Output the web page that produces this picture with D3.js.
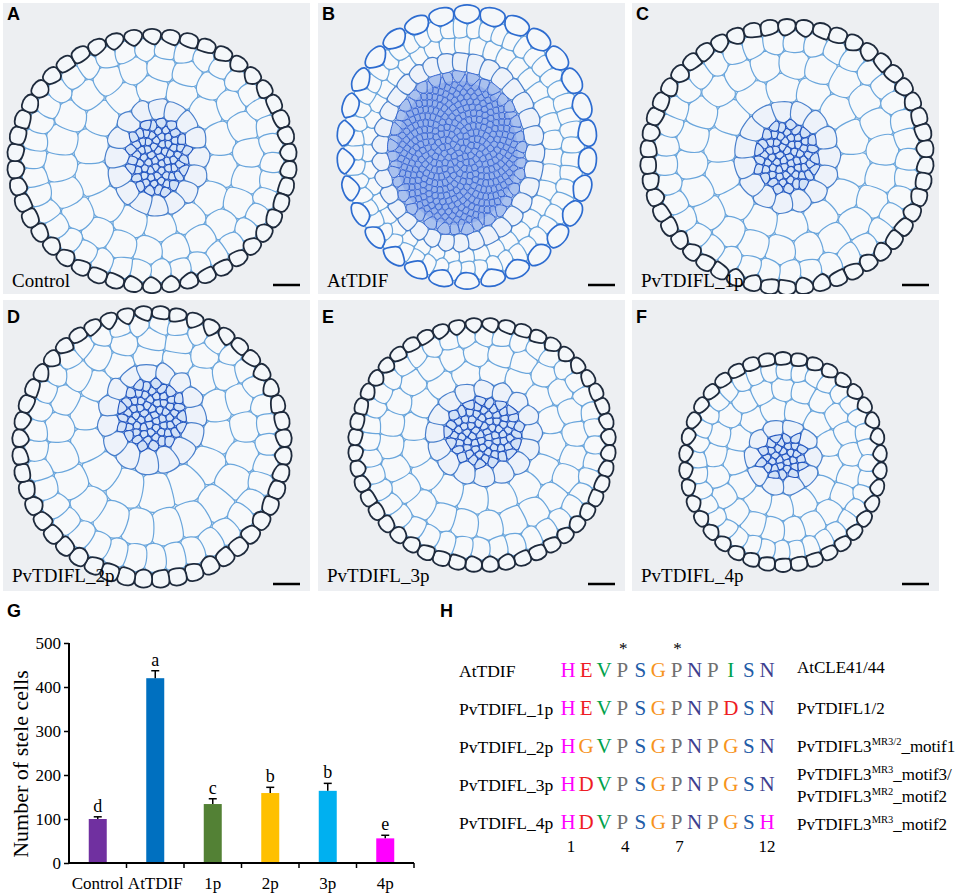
<!DOCTYPE html>
<html><head><meta charset="utf-8">
<script src="https://cdn.jsdelivr.net/npm/d3@7"></script>
<style>
html,body{margin:0;padding:0;background:#fff;}
svg{display:block;}
</style></head>
<body>
<svg id="fig" width="957" height="894"></svg>
<script>
// ---------------- DATA ----------------
const categories = ["Control", "AtTDIF", "1p", "2p", "3p", "4p"];
const meanCells = [100, 420, 134, 159, 164, 56];
const errCells = [5, 17, 12, 13, 17, 7];
const sigLetters = ["d", "a", "c", "b", "b", "e"];
const yTicks = [0, 100, 200, 300, 400, 500];

const seqNames = ["AtTDIF", "PvTDIFL_1p", "PvTDIFL_2p", "PvTDIFL_3p", "PvTDIFL_4p"];
const sequences = ["HEVPSGPNPISN", "HEVPSGPNPDSN", "HGVPSGPNPGSN", "HDVPSGPNPGSN", "HDVPSGPNPGSH"];
const seqLabels = [
  [["AtCLE41/44"]],
  [["PvTDIFL1/2"]],
  [["PvTDIFL3", "MR3/2", "_motif1"]],
  [["PvTDIFL3", "MR3", "_motif3/"], ["PvTDIFL3", "MR2", "_motif2"]],
  [["PvTDIFL3", "MR3", "_motif2"]]
];
const conservedPos = [4, 7];
const positionTicks = [1, 4, 7, 12];

const panelLetters = ["A", "B", "C", "D", "E", "F"];
const panelNames = ["Control", "AtTDIF", "PvTDIFL_1p", "PvTDIFL_2p", "PvTDIFL_3p", "PvTDIFL_4p"];

// ---------------- STYLES ----------------
const barColors = ["#7030A0", "#0070C0", "#538135", "#FFC000", "#00B0F0", "#FF00FF"];
const aaColors = {H:"#ff00ff", E:"#ee1c24", D:"#ee1c24", V:"#00a14b", I:"#00a14b",
  P:"#707070", S:"#1f5da8", G:"#f7941d", N:"#3f3f8f"};
const serif = "'Liberation Serif','Times New Roman',serif";
const sans = "'Liberation Sans',Arial,sans-serif";

const svg = d3.select("#fig");

// ---------------- MICROGRAPH PANELS (stylised drawings) ----------------
const geom = [
  {x:3,   y:3,   c:[152,161], r:[145,132], sc:[158,157], sr:[29,37], n:70,  ts:[0.3,0.6,0.85], epi:46, eo:0.95, go:1.05},
  {x:318, y:3,   c:[467,147], r:[130,142], sc:[457,153], sr:[64,76], n:420, ts:[0.38,0.72],     epi:30, eo:0.92, go:1.08},
  {x:632, y:3,   c:[787,157], r:[147,138], sc:[787,157], sr:[30,34], n:65,  ts:[0.3,0.6,0.85], epi:50, eo:0.95, go:1.05},
  {x:3,   y:300, c:[152,447], r:[140,141], sc:[152,415], sr:[32,33], n:65,  ts:[0.3,0.6,0.85], epi:48, eo:0.95, go:1.05},
  {x:318, y:300, c:[482,445], r:[134,127], sc:[484,432], sr:[37,32], n:75,  ts:[0.3,0.6,0.85], epi:48, eo:0.95, go:1.05},
  {x:632, y:300, c:[783,462], r:[104,110], sc:[783,457], sr:[22,21], n:32,  ts:[0.3,0.6,0.85], epi:38, eo:0.94, go:1.06}
];
const PW = 307, PH = 291;
const defs = svg.append("defs");
const golden = Math.PI * (3 - Math.sqrt(5));
const smooth = d3.line().curve(d3.curveCatmullRomClosed.alpha(0.5));

geom.forEach((g, i) => {
  defs.append("clipPath").attr("id", "clip" + i)
    .append("rect").attr("x", g.x).attr("y", g.y).attr("width", PW).attr("height", PH);
  const gp = svg.append("g").attr("clip-path", `url(#clip${i})`);
  gp.append("rect").attr("x", g.x).attr("y", g.y).attr("width", PW).attr("height", PH).attr("fill", "#edeff2");

  const pts = []; // [x, y, type]
  for (let k = 0; k < g.n; k++) {
    const rr = Math.sqrt((k + 0.5) / g.n) * 0.97, th = k * golden;
    pts.push([g.sc[0] + g.sr[0] * rr * Math.cos(th), g.sc[1] + g.sr[1] * rr * Math.sin(th), "s"]);
  }
  const I = th => [g.sc[0] + 1.2 * g.sr[0] * Math.cos(th), g.sc[1] + 1.2 * g.sr[1] * Math.sin(th)];
  const O = th => [g.c[0] + g.eo * g.r[0] * Math.cos(th), g.c[1] + g.eo * g.r[1] * Math.sin(th)];
  const perim = (f) => { let p = 0, prev = f(0); for (let a = 1; a <= 64; a++) { const q = f(a / 64 * 2 * Math.PI); p += Math.hypot(q[0] - prev[0], q[1] - prev[1]); prev = q; } return p; };
  const endoN = Math.max(9, Math.round(perim(I) / 16));
  for (let k = 0; k < endoN; k++) { const th = k / endoN * 2 * Math.PI; const p = I(th); pts.push([p[0], p[1], "e"]); }
  const span = d3.mean(d3.range(16), a => { const th = a / 16 * 2 * Math.PI; const p = I(th), q = O(th); return Math.hypot(q[0] - p[0], q[1] - p[1]); });
  const tt = [0].concat(g.ts, [1]);
  g.ts.forEach((t, j) => {
    const f = th => { const a = I(th), b = O(th); return [a[0] + (b[0] - a[0]) * t, a[1] + (b[1] - a[1]) * t]; };
    const gap = (tt[j + 2] - tt[j]) / 2 * span * 1.05;
    const n = Math.max(8, Math.round(perim(f) / gap));
    for (let k = 0; k < n; k++) { const th = (k + 0.37 * (j + 1)) / n * 2 * Math.PI; const p = f(th); pts.push([p[0], p[1], "c"]); }
  });
  for (let k = 0; k < g.epi; k++) { const th = (k + 0.5) / g.epi * 2 * Math.PI; const p = O(th); pts.push([p[0], p[1], "p"]); }
  const gn = g.epi * 2;
  for (let k = 0; k < gn; k++) { const th = k / gn * 2 * Math.PI;
    pts.push([g.c[0] + g.go * g.r[0] * Math.cos(th), g.c[1] + g.go * g.r[1] * Math.sin(th), "g"]); }

  const del = d3.Delaunay.from(pts, d => d[0], d => d[1]);
  const vor = del.voronoi([g.x - 50, g.y - 50, g.x + PW + 50, g.y + PH + 50]);
  ["c", "e", "s", "p"].forEach(type => {
    pts.forEach((p, k) => {
      if (p[2] !== type) return;
      const poly = vor.cellPolygon(k);
      if (!poly) return;
      const shrink = type === "s" ? 0.86 : (type === "p" ? 0.9 : 0.95);
      const cx = d3.mean(poly.slice(0, -1), q => q[0]), cy = d3.mean(poly.slice(0, -1), q => q[1]);
      const sp = poly.slice(0, -1).map(q => [cx + (q[0] - cx) * shrink, cy + (q[1] - cy) * shrink]);
      let fill = "#f7f9fb", stroke = "#6aa6dc", sw = 1.2;
      if (type === "s") { fill = i === 1 ? "#a9c1ee" : "#d3e2f7"; stroke = i === 1 ? "#2f5fd0" : "#2356c0"; sw = i === 1 ? 0.9 : 1.1; }
      if (type === "e") { fill = "#edf2fa"; stroke = "#4a80cc"; sw = 1.2; }
      if (type === "p") { fill = "#f4f7fa"; stroke = i === 1 ? "#2d6cd0" : "#1e2a3c"; sw = i === 1 ? 1.7 : 1.8; }
      gp.append("path").attr("d", smooth(sp)).attr("fill", fill).attr("stroke", stroke).attr("stroke-width", sw);
    });
  });
  if (i === 1) {
    gp.append("ellipse").attr("cx", g.sc[0]).attr("cy", g.sc[1]).attr("rx", g.sr[0] * 0.95).attr("ry", g.sr[1] * 0.95)
      .attr("fill", "#3a66d8").attr("opacity", 0.18);
  }
  const rowBase = i < 3 ? 20 : 323;
  svg.append("text").attr("x", g.x + 4).attr("y", rowBase).text(panelLetters[i])
    .attr("font-family", sans).attr("font-weight", "bold").attr("font-size", 18).attr("fill", "#000");
  const nameBase = i < 3 ? 287 : 582;
  svg.append("text").attr("x", g.x + 9).attr("y", nameBase).text(panelNames[i])
    .attr("font-family", serif).attr("font-size", 19).attr("fill", "#000");
  const sbY = i < 3 ? 285 : 584;
  svg.append("line").attr("x1", g.x + PW - 37).attr("x2", g.x + PW - 10).attr("y1", sbY).attr("y2", sbY)
    .attr("stroke", "#000").attr("stroke-width", 2.5);
});

// ---------------- PANEL G: bar chart ----------------
svg.append("text").attr("x", 7).attr("y", 617).text("G")
  .attr("font-family", sans).attr("font-weight", "bold").attr("font-size", 18);

const x = d3.scaleBand().domain(categories).range([69, 414]).padding(0);
const y = d3.scaleLinear().domain([0, 500]).range([863, 643]);
const barW = 18;
const gG = svg.append("g");

gG.selectAll("rect.bar").data(categories).join("rect")
  .attr("x", d => x(d) + x.bandwidth() / 2 - barW / 2)
  .attr("y", (d, k) => y(meanCells[k]))
  .attr("width", barW)
  .attr("height", (d, k) => y(0) - y(meanCells[k]))
  .attr("fill", (d, k) => barColors[k]);

categories.forEach((d, k) => {
  const cx = x(d) + x.bandwidth() / 2;
  const top = y(meanCells[k] + errCells[k]);
  gG.append("line").attr("x1", cx).attr("x2", cx).attr("y1", y(meanCells[k])).attr("y2", top)
    .attr("stroke", "#000").attr("stroke-width", 1.5);
  gG.append("line").attr("x1", cx - 4).attr("x2", cx + 4).attr("y1", top).attr("y2", top)
    .attr("stroke", "#000").attr("stroke-width", 1.5);
  gG.append("text").attr("x", cx).attr("y", top - 5).attr("text-anchor", "middle").text(sigLetters[k])
    .attr("font-family", serif).attr("font-size", 18);
});

const yAxis = gG.append("g").attr("transform", "translate(69,0)")
  .call(d3.axisLeft(y).tickValues(yTicks).tickSize(5).tickPadding(3));
yAxis.select(".domain").attr("stroke-width", 2).attr("d", "M0,643V863");
yAxis.selectAll(".tick line").attr("stroke-width", 1.5);
yAxis.selectAll("text").attr("font-family", serif).attr("font-size", 17).attr("fill", "#000");

const xAxis = gG.append("g").attr("transform", "translate(0,863)")
  .call(d3.axisBottom(x).tickSize(0).tickPadding(14));
xAxis.select(".domain").attr("stroke-width", 2).attr("d", "M69,0H414");
xAxis.selectAll("text").attr("font-family", serif).attr("font-size", 17).attr("fill", "#000");
categories.forEach(d => {
  const bx = x(d) + x.bandwidth();
  gG.append("line").attr("x1", bx).attr("x2", bx).attr("y1", 863).attr("y2", 868)
    .attr("stroke", "#000").attr("stroke-width", 1.5);
});

gG.append("text").attr("transform", "translate(28,764) rotate(-90)").attr("text-anchor", "middle")
  .text("Number of stele cells").attr("font-family", serif).attr("font-size", 22);

// ---------------- PANEL H: alignment ----------------
svg.append("text").attr("x", 440).attr("y", 617).text("H")
  .attr("font-family", sans).attr("font-weight", "bold").attr("font-size", 18);

const pos = d3.scaleLinear().domain([1, 12]).range([568, 767]);
const rowY = d3.scaleLinear().domain([0, 4]).range([677, 829]);
const gH = svg.append("g");

seqNames.forEach((nm, r) => {
  gH.append("text").attr("x", 459).attr("y", rowY(r)).text(nm)
    .attr("font-family", serif).attr("font-size", 17.5);
  sequences[r].split("").forEach((aa, k) => {
    gH.append("text").attr("x", pos(k + 1)).attr("y", rowY(r)).attr("text-anchor", "middle")
      .text(aa).attr("fill", aaColors[aa]).attr("font-family", serif).attr("font-size", 21);
  });
});
const labelBases = [[673], [714], [752], [780, 802], [830]];
seqLabels.forEach((lines, r) => {
  lines.forEach((parts, li) => {
    const t = gH.append("text").attr("x", 797).attr("y", labelBases[r][li])
      .attr("font-family", serif).attr("font-size", 17);
    t.append("tspan").text(parts[0]);
    if (parts.length > 1) {
      t.append("tspan").text(parts[1]).attr("font-size", 10.5).attr("dy", -7);
      t.append("tspan").text(parts[2]).attr("dy", 7);
    }
  });
});
conservedPos.forEach(p => {
  gH.append("text").attr("x", pos(p) + 1).attr("y", 654).attr("text-anchor", "middle").text("*")
    .attr("font-family", serif).attr("font-size", 17);
});
positionTicks.forEach(p => {
  gH.append("text").attr("x", pos(p) + (p < 12 ? 3 : 0)).attr("y", 852).attr("text-anchor", "middle").text(p)
    .attr("font-family", serif).attr("font-size", 17);
});
</script>
</body></html>
